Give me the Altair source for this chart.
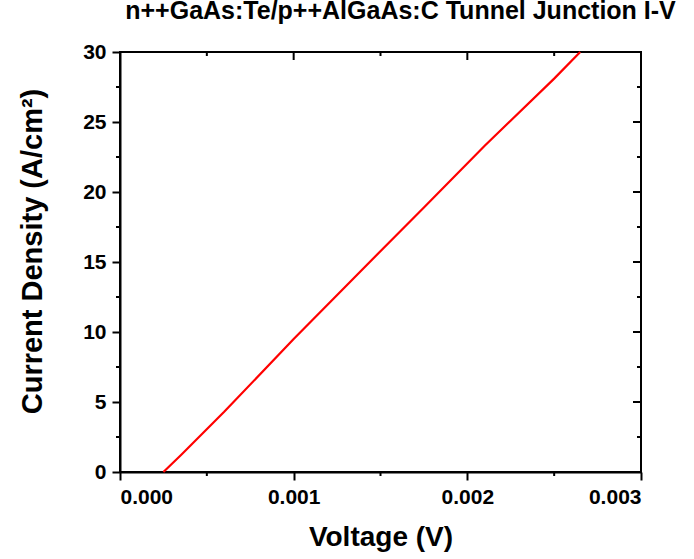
import altair as alt
import pandas as pd

# Data
voltage = [0.00025, 0.00035, 0.0006, 0.0010, 0.00135, 0.00175, 0.0021, 0.0025, 0.00265]
current = [0.0, 1.2, 4.3, 9.5, 13.9, 18.9, 23.3, 28.1, 30.0]

x_major = [0.0, 0.001, 0.002, 0.003]
x_minor = [0.0005, 0.0015, 0.0025]
y_major = [0, 5, 10, 15, 20, 25, 30]
y_minor = [2.5, 7.5, 12.5, 17.5, 22.5, 27.5]

W, H = 521, 420
FONT = "Liberation Sans"

xscale = alt.Scale(domain=[0, 0.003], nice=False, zero=False)
yscale = alt.Scale(domain=[0, 30], nice=False, zero=False)
xaxis = alt.Axis(values=x_major, format=".3f", title="Voltage (V)", grid=False,
                 tickSize=8, labelPadding=6, titlePadding=16)
yaxis = alt.Axis(values=y_major, format="d", title="Current Density (A/cm²)", grid=False,
                 tickSize=8, labelPadding=6, titlePadding=35, titleFontSize=29, titleY=199)

df = pd.DataFrame({"V": voltage, "J": current})

line = alt.Chart(df).mark_line(color="#FF0000", strokeWidth=2.2).encode(
    x=alt.X("V:Q", scale=xscale, axis=xaxis),
    y=alt.Y("J:Q", scale=yscale, axis=yaxis),
)

dxm = pd.DataFrame({"V": x_minor})
dxM = pd.DataFrame({"V": x_major[1:-1]})
dym = pd.DataFrame({"J": y_minor})
dyM = pd.DataFrame({"J": y_major[1:-1]})

rule = dict(color="black", strokeWidth=2)
X = alt.X("V:Q", scale=xscale, axis=xaxis)
Y = alt.Y("J:Q", scale=yscale, axis=yaxis)

bottom_minor = alt.Chart(dxm).mark_rule(**rule).encode(x=X, y=alt.value(H), y2=alt.value(H + 4))
top_minor = alt.Chart(dxm).mark_rule(**rule).encode(x=X, y=alt.value(0), y2=alt.value(4))
top_major = alt.Chart(dxM).mark_rule(**rule).encode(x=X, y=alt.value(0), y2=alt.value(8))
left_minor = alt.Chart(dym).mark_rule(**rule).encode(y=Y, x=alt.value(-4), x2=alt.value(0))
right_minor = alt.Chart(dym).mark_rule(**rule).encode(y=Y, x=alt.value(W - 4), x2=alt.value(W))
right_major = alt.Chart(dyM).mark_rule(**rule).encode(y=Y, x=alt.value(W - 8), x2=alt.value(W))

chart = alt.layer(
    line, bottom_minor, top_minor, top_major, left_minor, right_minor, right_major
).properties(
    width=W, height=H,
    background="white",
    title=alt.TitleParams(
        "n++GaAs:Te/p++AlGaAs:C Tunnel Junction I-V",
        font=FONT, fontSize=25, fontWeight="bold", color="black",
        anchor="middle", dx=20, offset=17),
    autosize=alt.AutoSizeParams(type="none"),
    padding={"left": 120, "top": 52, "right": 53, "bottom": 87},
).configure_view(
    stroke="black", strokeWidth=2
).configure_axis(
    labelFont=FONT, labelFontSize=21, labelFontWeight="bold", labelColor="black",
    titleFont=FONT, titleFontSize=28, titleFontWeight="bold", titleColor="black",
    domainColor="black", domainWidth=2, tickColor="black", tickWidth=2,
)

chart.save("out.html", embed_options={"renderer": "svg", "actions": False})
